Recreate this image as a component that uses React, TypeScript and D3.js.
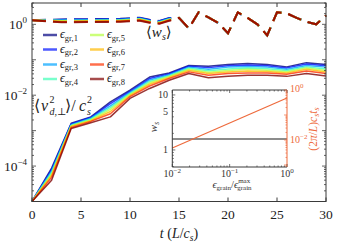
import React from "react";
import * as d3 from "d3";

// time samples of the perpendicular velocity dispersion curves
const times = [0, 2, 4, 6, 8, 10, 12, 14, 16, 18, 20, 22, 24, 26, 28, 30];
const v1 = [1e-5, 8.8e-5, 1.62e-3, 2.45e-3, 6.5e-3, 1.38e-2, 3.25e-2, 4.25e-2, 6.9e-2, 6.6e-2, 7.4e-2, 7.8e-2, 7.3e-2, 6.3e-2, 8.3e-2, 7.3e-2];
const v2 = [1e-5, 7.9e-5, 1.55e-3, 2.34e-3, 5.75e-3, 1.29e-2, 2.95e-2, 4.0e-2, 6.6e-2, 6.0e-2, 6.8e-2, 7.1e-2, 6.8e-2, 5.9e-2, 7.6e-2, 6.8e-2];
const v3 = [1e-5, 7.2e-5, 1.48e-3, 2.24e-3, 5.0e-3, 1.2e-2, 2.7e-2, 3.8e-2, 6.2e-2, 5.4e-2, 6.2e-2, 6.5e-2, 6.2e-2, 5.4e-2, 6.9e-2, 6.2e-2];
const v4 = [1e-5, 6.6e-5, 1.41e-3, 2.14e-3, 4.45e-3, 1.12e-2, 2.45e-2, 3.55e-2, 5.75e-2, 4.9e-2, 5.5e-2, 5.9e-2, 5.6e-2, 5.0e-2, 6.3e-2, 5.5e-2];
const v5 = [1e-5, 5.9e-5, 1.38e-3, 2.0e-3, 3.98e-3, 1.05e-2, 2.24e-2, 3.4e-2, 5.4e-2, 4.45e-2, 5.0e-2, 5.4e-2, 5.1e-2, 4.6e-2, 5.9e-2, 5.0e-2];
const v6 = [1e-5, 5.4e-5, 1.32e-3, 1.9e-3, 3.47e-3, 9.8e-3, 2.04e-2, 3.15e-2, 5.0e-2, 4.1e-2, 4.55e-2, 4.8e-2, 4.7e-2, 4.25e-2, 5.4e-2, 4.55e-2];
const v7 = [1e-5, 4.8e-5, 1.23e-3, 1.82e-3, 3.0e-3, 9.1e-3, 1.82e-2, 2.95e-2, 4.55e-2, 3.65e-2, 4.1e-2, 4.25e-2, 4.25e-2, 3.9e-2, 4.8e-2, 4.1e-2];
const v8 = [1e-5, 4.0e-5, 1.15e-3, 1.66e-3, 2.45e-3, 8.1e-3, 1.55e-2, 2.65e-2, 4.1e-2, 3.1e-2, 3.4e-2, 3.65e-2, 3.65e-2, 3.4e-2, 4.1e-2, 3.5e-2];
const vSeries = [v1, v2, v3, v4, v5, v6, v7, v8];

// mean grain weight <w_s>: early part per series, late zigzag shared
const wsEarlyT = [0, 3, 6, 9, 11, 12, 13, 14];
const wsEarly = [
  [1.3, 1.38, 1.4, 1.43, 1.54, 1.34, 1.25, 1.52],
  [1.3, 1.35, 1.37, 1.39, 1.5, 1.3, 1.22, 1.49],
  [1.3, 1.31, 1.32, 1.35, 1.46, 1.26, 1.18, 1.44],
  [1.3, 1.27, 1.29, 1.31, 1.42, 1.23, 1.15, 1.4],
  [1.3, 1.24, 1.25, 1.28, 1.38, 1.2, 1.12, 1.36],
  [1.3, 1.2, 1.22, 1.24, 1.34, 1.17, 1.09, 1.33],
  [1.3, 1.17, 1.18, 1.21, 1.3, 1.13, 1.06, 1.29],
  [1.3, 1.14, 1.16, 1.18, 1.27, 1.11, 1.04, 1.26],
];
const wsLateT = [15, 16, 17, 18, 19, 20, 21, 22, 23, 24, 25, 26, 27, 28, 29, 30];
const wsLate = [1.52, 0.77, 2.18, 1.57, 1.1, 0.56, 2.18, 1.52, 1.0, 0.49, 2.18, 2.04, 1.52, 1.18, 1.0, 1.79];

const colors = ["#000080", "#0012ff", "#00a4ff", "#40ffb6", "#b6ff41", "#ffb900", "#ff3200", "#800000"];
const legendIds = ["1", "2", "3", "4", "5", "6", "7", "8"];

const xTicks = [0, 5, 10, 15, 20, 25, 30];
const yLabelExps = [0, -2, -4];

// inset: timescale and weight vs grain energy
const grainEps = [0.01, 1];
const grainTs = [0.0048, 0.48];
const grainWs = [1.58, 1.58];
const insetXLabelExps = [-2, -1, 0];
const insetLeftLabels = [10, 5, 1];
const insetRightExps = [0, -2];

const FONT = "'Liberation Serif', 'DejaVu Serif', serif";
const ORANGE = "#ee6a3c";
const AX = "#3a3a3a";

function logTicks(lo: number, hi: number) {
  const out: { v: number; major: boolean }[] = [];
  for (let d = Math.floor(Math.log10(lo)); d <= Math.ceil(Math.log10(hi)); d++) {
    for (let m = 1; m <= 9; m++) {
      const v = m * Math.pow(10, d);
      if (v >= lo * 0.999 && v <= hi * 1.001) out.push({ v, major: m === 1 });
    }
  }
  return out;
}

export default function App() {
  const mx = d3.scaleLinear().domain([0, 30]).range([32, 326]);
  const my = d3.scaleLog().domain([1e-5, 4]).range([201.5, 3]);
  const line = d3
    .line<[number, number]>()
    .x((d) => mx(d[0]))
    .y((d) => my(d[1]));

  const ix = d3.scaleLog().domain([0.01, 1]).range([172.3, 287]);
  const iyL = d3.scaleLog().domain([0.49, 12.3]).range([167, 90]);
  const iyR = d3.scaleLog().domain([8.3e-4, 1]).range([167, 90]);
  const [L, R, T, B] = [32, 326, 3, 201.5];
  const [iL, iR, iT, iB] = [172.3, 287, 90, 167];

  const sup = (txt: string, fs: number, dy: number) => (
    <tspan dy={-dy} fontSize={fs}>
      {txt}
    </tspan>
  );

  return (
    <svg
      width={338}
      height={245}
      style={{ position: "absolute", left: 0, top: 0, background: "#fff" }}
      fontFamily={FONT}
    >
      <rect width={338} height={245} fill="#fff" />

      {/* velocity curves */}
      {vSeries.map((s, i) => (
        <path
          key={"v" + i}
          d={line(times.map((t, j) => [t, s[j]] as [number, number])) ?? ""}
          fill="none"
          stroke={colors[i]}
          strokeOpacity={0.8}
          strokeWidth={1.5}
          strokeLinejoin="round"
        />
      ))}

      {/* <w_s> dashed curves */}
      {wsEarly.map((s, i) => {
        const pts = [
          ...wsEarlyT.map((t, j) => [t, s[j]] as [number, number]),
          ...wsLateT.map((t, j) => [t, wsLate[j]] as [number, number]),
        ];
        return (
          <path
            key={"w" + i}
            d={line(pts) ?? ""}
            fill="none"
            stroke={colors[i]}
            strokeOpacity={0.8}
            strokeWidth={2}
            strokeDasharray="14,7"
          />
        );
      })}

      {/* main frame */}
      <rect x={L} y={T} width={R - L} height={B - T} fill="none" stroke={AX} strokeWidth={1} />
      {xTicks.map((t) => (
        <g key={"xt" + t}>
          <line x1={mx(t)} x2={mx(t)} y1={B} y2={B - 4} stroke={AX} />
          <line x1={mx(t)} x2={mx(t)} y1={T} y2={T + 4} stroke={AX} />
          <text x={mx(t)} y={219} textAnchor="middle" fontSize={13.5} fill="#222">
            {t}
          </text>
        </g>
      ))}
      {logTicks(1e-5, 4).map((tk, k) => {
        const len = tk.major ? 4 : 2;
        const y = my(tk.v);
        return (
          <g key={"yt" + k}>
            <line x1={L} x2={L + len} y1={y} y2={y} stroke={AX} strokeWidth={0.8} />
            <line x1={R} x2={R - len} y1={y} y2={y} stroke={AX} strokeWidth={0.8} />
          </g>
        );
      })}
      {yLabelExps.map((e) => (
        <text key={"yl" + e} x={27} y={my(Math.pow(10, e)) + 5} textAnchor="end" fontSize={13.5} fill="#222">
          10{sup(e === 0 ? "0" : "\u2212" + Math.abs(e), 9, 6)}
        </text>
      ))}
      <text x={179} y={238} textAnchor="middle" fontSize={14} fill="#222">
        <tspan fontStyle="italic">t</tspan> (<tspan fontStyle="italic">L</tspan>/<tspan fontStyle="italic">c</tspan>
        <tspan fontStyle="italic" fontSize={9.5} dy={3}>s</tspan>
        <tspan dy={-3}>)</tspan>
      </text>

      {/* curve labels */}
      <text x={146} y={37} fontSize={15} fill="#222">
        ⟨<tspan fontStyle="italic">w</tspan>
        <tspan fontStyle="italic" fontSize={10} dy={3}>s</tspan>
        <tspan dy={-3}>⟩</tspan>
      </text>
      <g fontSize={16} fill="#222">
        <text x={34} y={111}>⟨</text>
        <text x={41} y={111} fontStyle="italic">v</text>
        <text x={49.5} y={103} fontSize={10}>2</text>
        <text x={49.5} y={115} fontSize={10}>
          <tspan fontStyle="italic">d</tspan>,⊥
        </text>
        <text x={65} y={111}>⟩/</text>
        <text x={79} y={111} fontStyle="italic">c</text>
        <text x={87} y={103} fontSize={10}>2</text>
        <text x={87} y={115} fontSize={10} fontStyle="italic">s</text>
      </g>

      {/* legend */}
      {legendIds.map((id, i) => {
        const col = Math.floor(i / 4);
        const row = i % 4;
        const y = [35, 49.5, 64.5, 79][row];
        const x0 = col === 0 ? 43 : 90;
        return (
          <g key={"lg" + id}>
            <line x1={x0} x2={x0 + 14} y1={y} y2={y} stroke={colors[i]} strokeOpacity={0.7} strokeWidth={2.5} />
            <text x={x0 + 17} y={y + 3} fontSize={12} fill="#222">
              <tspan fontStyle="italic">ϵ</tspan>
              <tspan fontSize={8.5} dy={2.5}>{"gr," + id}</tspan>
            </text>
          </g>
        );
      })}

      {/* inset */}
      <rect x={iL} y={iT} width={iR - iL} height={iB - iT} fill="#fff" />
      <path
        d={
          d3
            .line<number>()
            .x((d) => ix(d))
            .y((_, j) => iyL(grainWs[j]))(grainEps) ?? ""
        }
        stroke="#666"
        strokeWidth={1.5}
        fill="none"
      />
      <path
        d={
          d3
            .line<number>()
            .x((d) => ix(d))
            .y((_, j) => iyR(grainTs[j]))(grainEps) ?? ""
        }
        stroke={ORANGE}
        strokeWidth={1.2}
        fill="none"
      />
      <path d={`M${iR},${iT}V${iB}`} stroke={ORANGE} strokeWidth={1} />
      <path d={`M${iR},${iT}H${iL}V${iB}H${iR}`} stroke={AX} strokeWidth={1} fill="none" />
      {logTicks(0.01, 1).map((tk, k) => {
        const len = tk.major ? 3 : 1.5;
        const x = ix(tk.v);
        return (
          <g key={"ixt" + k}>
            <line x1={x} x2={x} y1={iB} y2={iB - len} stroke={AX} strokeWidth={0.7} />
            <line x1={x} x2={x} y1={iT} y2={iT + len} stroke={AX} strokeWidth={0.7} />
          </g>
        );
      })}
      {logTicks(0.49, 12.3).map((tk, k) => (
        <line
          key={"iyl" + k}
          x1={iL}
          x2={iL + (tk.major ? 3 : 1.5)}
          y1={iyL(tk.v)}
          y2={iyL(tk.v)}
          stroke={AX}
          strokeWidth={0.7}
        />
      ))}
      {logTicks(8.3e-4, 1).map((tk, k) => (
        <line
          key={"iyr" + k}
          x1={iR}
          x2={iR - (tk.major ? 3 : 1.5)}
          y1={iyR(tk.v)}
          y2={iyR(tk.v)}
          stroke={ORANGE}
          strokeWidth={0.7}
        />
      ))}
      {insetXLabelExps.map((e) => (
        <text key={"ixl" + e} x={ix(Math.pow(10, e)) + (e === 0 ? 0 : 0)} y={177} textAnchor="middle" fontSize={10} fill="#333">
          10{sup(e === 0 ? "0" : "\u2212" + Math.abs(e), 7, 4)}
        </text>
      ))}
      {insetLeftLabels.map((v) => (
        <text key={"iyll" + v} x={168} y={iyL(v) + 3.5} textAnchor="end" fontSize={10} fill="#333">
          {v}
        </text>
      ))}
      {insetRightExps.map((e) => (
        <text key={"iyrl" + e} x={290} y={iyR(Math.pow(10, e)) + (e === 0 ? 1.5 : 3.5)} fontSize={10} fill={ORANGE}>
          10{sup(e === 0 ? "0" : "\u2212" + Math.abs(e), 7, 4)}
        </text>
      ))}
      <text transform="translate(157,127) rotate(-90)" textAnchor="middle" fontSize={11} fill="#333">
        <tspan fontStyle="italic">w</tspan>
        <tspan fontStyle="italic" fontSize={7.5} dy={2}>s</tspan>
      </text>
      <text transform="translate(317,129) rotate(-90)" textAnchor="middle" fontSize={11.5} fill={ORANGE}>
        (2<tspan fontStyle="italic">π</tspan>/<tspan fontStyle="italic">L</tspan>)<tspan fontStyle="italic">c</tspan>
        <tspan fontStyle="italic" fontSize={8} dy={2}>s</tspan>
        <tspan fontStyle="italic" dy={-2}>t</tspan>
        <tspan fontStyle="italic" fontSize={8} dy={2}>s</tspan>
      </text>
      <text x={232} y={188} textAnchor="middle" fontSize={10.5} fill="#333">
        <tspan fontStyle="italic">ϵ</tspan>
        <tspan fontSize={7} dy={2}>grain</tspan>
        <tspan dy={-2}>/</tspan>
        <tspan fontStyle="italic">ϵ</tspan>
        <tspan fontSize={7} dy={-5}>max</tspan>
        <tspan fontSize={7} dx={-13} dy={7}>grain</tspan>
      </text>
    </svg>
  );
}
